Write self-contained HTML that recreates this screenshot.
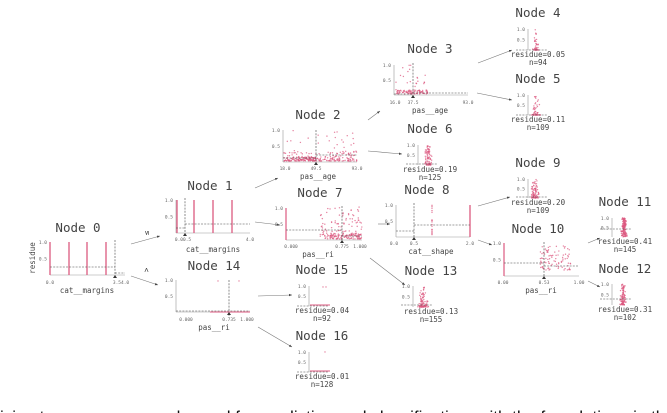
<!DOCTYPE html>
<html><head><meta charset="utf-8"><style>
html,body{margin:0;padding:0;background:#fff;width:667px;height:413px;overflow:hidden}
svg text{font-family:"DejaVu Sans Mono","Liberation Mono",monospace;fill:#444}
.t{font-size:12.5px}
.s{font-size:4.5px;fill:#666}
.l{font-size:7.5px}
.r{font-size:7.5px}
</style></head><body>
<svg id="sv" width="667" height="413" viewBox="0 0 667 413" xmlns="http://www.w3.org/2000/svg">
<defs><marker id="a" markerWidth="6" markerHeight="6" refX="5" refY="3" orient="auto"><path d="M0,1 L5,3 L0,5z" fill="#444"/></marker></defs>
<g id="g" stroke-width="0.6"></g>
<g stroke="#777" stroke-width="0.6" marker-end="url(#a)" fill="none">
<line x1="131" y1="244" x2="160" y2="236"/>
<line x1="131" y1="276" x2="158" y2="285"/>
<line x1="255" y1="188" x2="278" y2="178"/>
<line x1="255" y1="222" x2="280" y2="225"/>
<line x1="368" y1="120" x2="380" y2="111"/>
<line x1="368" y1="151" x2="402" y2="154"/>
<line x1="478" y1="63" x2="512" y2="50"/>
<line x1="477" y1="93" x2="512" y2="100"/>
<line x1="378" y1="224" x2="390" y2="224"/>
<line x1="370" y1="258" x2="405" y2="285"/>
<line x1="478" y1="206" x2="510" y2="197"/>
<line x1="478" y1="240" x2="492" y2="245"/>
<line x1="588" y1="243" x2="600" y2="238"/>
<line x1="588" y1="281" x2="600" y2="287"/>
<line x1="258" y1="296" x2="292" y2="295"/>
<line x1="258" y1="327" x2="292" y2="347"/>
</g>
<text x="146" y="236" class="l" transform="rotate(-90 146 233)" text-anchor="middle">≤</text>
<text x="146" y="273" class="l" transform="rotate(-90 146 270)" text-anchor="middle">&gt;</text>
<text x="35" y="258" class="l" transform="rotate(-90 35 258)" text-anchor="middle">residue</text>
<text x="0" y="422.5" style="font-family:'Liberation Sans',sans-serif;font-size:17px;fill:#111">ision trees are commonly used for prediction and classification, with the foundations in the field of</text>
</svg>
<script>
var seed=7;function R(){seed=(seed*16807)%2147483647;return (seed-1)/2147483646;}
var g=document.getElementById('g'),NS='http://www.w3.org/2000/svg';
var PK='#dc5a80';
function el(t,a,txt){var e=document.createElementNS(NS,t);for(var k in a)e.setAttribute(k,a[k]);if(txt!=null)e.textContent=txt;g.appendChild(e);return e;}
function ln(x1,y1,x2,y2,c,d,w){el('line',{x1:x1,y1:y1,x2:x2,y2:y2,stroke:c||'#888','stroke-width':w||0.6,'stroke-dasharray':d?'2,1.2':''});}
function tx(x,y,s,c,anc){el('text',{x:x,y:y,'class':c,'text-anchor':anc||'middle'},s);}
function dot(x,y){el('circle',{cx:x,cy:y,r:0.7,fill:PK,'fill-opacity':0.75});}
function title(x,y,s){tx(x,y,s,'t');}
function axes(x0,y0,y1,x1){ln(x0,y0,x0,y1,'#999');if(x1)ln(x0,y1,x1,y1,'#999');
 var h=y1-y0;tx(x0-3,y0+2,'1.0','s','end');tx(x0-3,y0+h/2+2,'0.5','s','end');}
function scat(x0,x1,yb,h,n,bias){for(var i=0;i<n;i++){var x=x0+R()*(x1-x0);var v=Math.pow(R(),bias);dot(x,yb-v*h);}}
function gscat(cx,w,yb,h,n,bias){for(var i=0;i<n;i++){var v=Math.pow(R(),bias);var x=cx+(R()+R()-1)*w*(1-0.5*v);dot(x,yb-v*h);}}
function tri(x,y){el('path',{d:'M'+(x-2)+','+(y+3)+' L'+(x+2)+','+(y+3)+' L'+x+','+y+'z',fill:'#333'});}
title(78,232,'Node 0');axes(50,242,275,125);
[50,69,87,106].forEach(function(x){ln(x,242,x,275,PK,0,1.3);});
ln(50,267,115,267,'#444',1);ln(115,240,115,278,'#444',1);ln(115,273,125,273,'#444',1);tri(115,275);
tx(50,284,'0.0','s');tx(121,284,'3.54.0','s');tx(87,293,'cat__margins','l');
title(210,190,'Node 1');axes(176,200,233,250);
[177,194,213,232].forEach(function(x){ln(x,200,x,233,PK,0,1.3);});
ln(185,224,250,224,'#444',1);ln(176,228,185,228,'#444',1);ln(185,198,185,236,'#444',1);tri(185,233);
tx(183,241,'0.00.5','s');tx(250,241,'4.0','s');tx(213,252,'cat__margins','l');
title(214,270,'Node 14');axes(176,280,312,250);
ln(229,280,229,316,'#444',1);ln(176,311,250,311,'#444',1);ln(210,312,250,312,PK,0,1);dot(218,281);dot(239,281);tri(229,312);
tx(186,321,'0.000','s');tx(229,321,'0.735','s');tx(247,321,'1.000','s');tx(214,330,'pas__ri','l');
title(318,119,'Node 2');axes(283,130,162,357);
scat(284,357,161,10,160,2.5);scat(284,357,161,32,40,1);scat(284,320,161,4,90,1);
ln(316,130,316,165,'#444',1);ln(283,158,316,158,'#444',1);ln(316,155,357,155,'#444',1);tri(316,162);
tx(285,170,'18.0','s');tx(316,170,'49.5','s');tx(357,170,'93.0','s');tx(318,179,'pas__age','l');
title(320,197,'Node 7');axes(286,208,240,362);ln(286,208,286,240,PK,0,1.2);
scat(320,362,239,32,110,1.6);scat(330,362,239,6,90,1);
ln(342,206,342,243,'#444',1);ln(286,230,342,230,'#444',1);ln(342,236,362,236,'#444',1);tri(342,240);
tx(291,248,'0.000','s');tx(342,248,'0.775','s');tx(360,248,'1.000','s');tx(318,257,'pas__ri','l');
title(430,53,'Node 3');axes(394,65,95,468);
scat(396,428,94,30,40,3);scat(396,428,94,4,70,1);
ln(413,63,413,98,'#444',1);ln(394,94,413,94,'#444',1);ln(413,93,468,93,'#444',1);tri(413,95);
tx(395,104,'16.0','s');tx(413,104,'37.5','s');tx(468,104,'93.0','s');tx(430,113,'pas__age','l');
function leaf(cx,ty,ax,top,bot,dash,res,n,pcx,pw,cnt,bias,num){title(cx,ty,'Node '+num);
 axes(ax,top,bot);gscat(pcx,pw,bot,bot-top,cnt,bias);ln(ax-12,dash,ax+20,dash,'#444',1);
 tx(cx,bot+7,'residue='+res,'r');tx(cx,bot+15,'n='+n,'r');}
leaf(538,17,528,29,50,50,'0.05',94,536,4,50,6,4);
leaf(538,83,528,95,115,115,'0.11',109,536,5,60,5,5);
leaf(430,133,418,145,165,164,'0.19',125,428,5,90,2.5,6);
leaf(538,167,528,179,198,197,'0.20',109,535,5,90,2.5,9);
leaf(625,206,612,218,237,229,'0.41',145,624,4,150,1,11);
leaf(625,273,612,284,305,299,'0.31',102,623,4,100,1.5,12);
leaf(431,275,413,286,307,305,'0.13',155,423,6,100,3,13);
leaf(322,274,309,286,306,306,'0.04',92,320,0,0,1,15);
leaf(322,340,309,352,372,372,'0.01',128,320,0,0,1,16);
ln(310,305,330,305,PK,0,1);ln(310,371,330,371,PK,0,1);dot(323,287);dot(326,287);dot(325,352);
title(427,194,'Node 8');axes(396,205,237,470);ln(470,205,470,237,PK,0,1.3);
for(var i=0;i<18;i++)dot(432,205+R()*32);
ln(414,203,414,240,'#444',1);ln(396,231,414,231,'#444',1);ln(414,225,470,225,'#444',1);tri(414,237);
tx(394,245,'0.0','s');tx(414,245,'0.5','s');tx(470,245,'2.0','s');tx(431,254,'cat__shape','l');
title(538,233,'Node 10');axes(504,243,276,579);ln(504,243,504,276,PK,0,1.2);
scat(540,571,270,24,90,1.3);
ln(544,242,544,279,'#444',1);ln(504,263,544,263,'#444',1);ln(544,266,579,266,'#444',1);tri(544,276);
tx(503,284,'0.00','s');tx(544,284,'0.53','s');tx(579,284,'1.00','s');tx(541,293,'pas__ri','l');
</script>
</body></html>
